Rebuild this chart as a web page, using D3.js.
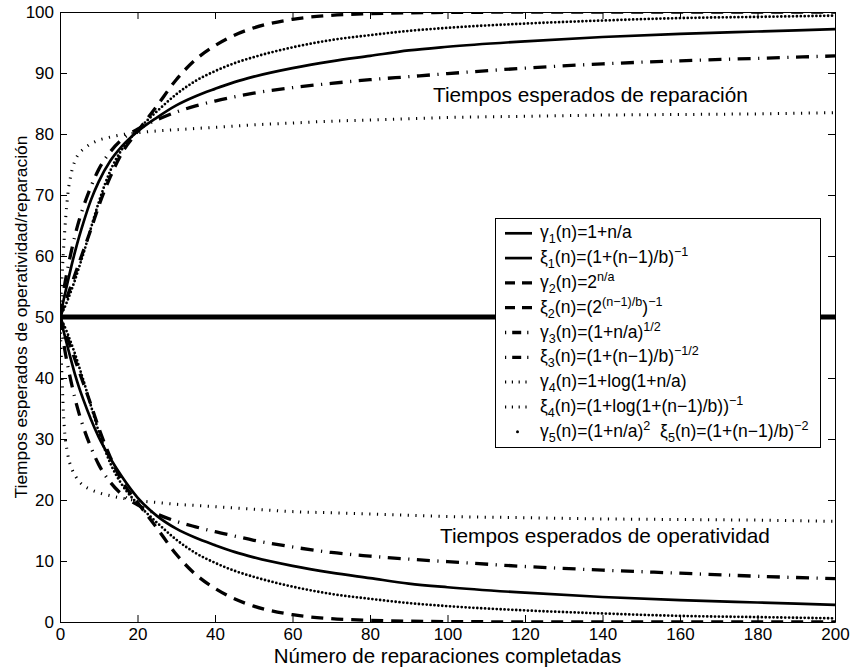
<!DOCTYPE html>
<html>
<head>
<meta charset="utf-8">
<script src="https://cdn.jsdelivr.net/npm/d3@7"></script>
<style>
  body { margin: 0; background: #fff; }
  svg { display: block; }
  text { font-family: "Liberation Sans", Arial, Helvetica, sans-serif; fill: #000; white-space: pre; }
</style>
</head>
<body>
<svg id="chart" width="851" height="667"></svg>
<script>
// Repair cycle index (number of completed repairs)
const nSteps = [0, 1, 2, 3, 4, 5, 6, 8, 10, 13, 16, 20, 25, 30, 35, 40, 45, 50, 60, 70, 80, 90, 100, 120, 140, 160, 180, 200];

const xTicks = [0, 20, 40, 60, 80, 100, 120, 140, 160, 180, 200];
const yTicks = [0, 10, 20, 30, 40, 50, 60, 70, 80, 90, 100];

// Expected repair times (upper family), one array per model
const repair1 = [50, 53, 55.8, 58.5, 61, 63.3, 65.4, 69.2, 72.2, 75.6, 78.0, 80.4, 82.7, 84.7, 86.2, 87.4, 88.5, 89.4, 90.8, 91.9, 92.8, 93.7, 94.3, 95.2, 95.9, 96.4, 96.8, 97.2];
const repair2 = [50, 51.8, 53.6, 55.4, 57.2, 59.0, 60.8, 64.4, 68.2, 73.0, 76.9, 80.4, 84.6, 88.9, 92.2, 94.5, 96.2, 97.4, 98.8, 99.45, 99.72, 99.86, 99.93, 99.98, 100, 100, 100, 100];
const repair3 = [50, 54.5, 58, 61, 63.7, 66, 68, 71.4, 74.2, 77.1, 79.1, 80.8, 82.3, 83.6, 84.6, 85.4, 86.1, 86.7, 87.6, 88.3, 88.9, 89.4, 89.9, 90.8, 91.5, 92.0, 92.4, 92.8];
const repair4 = [50, 62, 70, 73.8, 75.8, 76.9, 77.5, 78.4, 79.0, 79.5, 79.9, 80.2, 80.5, 80.7, 80.9, 81.1, 81.3, 81.5, 81.8, 82.1, 82.3, 82.5, 82.7, 82.9, 83.1, 83.2, 83.3, 83.5];
const repair5 = [50, 51.3, 52.8, 54.5, 56.3, 58.3, 60.3, 64.6, 68.8, 74.0, 77.5, 80.6, 83.7, 86.5, 88.7, 90.3, 91.6, 92.6, 94.2, 95.4, 96.2, 96.9, 97.4, 98.1, 98.6, 99.0, 99.2, 99.4];

// Expected operating times (lower family)
const operate1 = [50, 47.5, 45, 42.6, 40.3, 38.3, 36.5, 33.2, 30.3, 26.8, 23.8, 20.4, 17.4, 15.3, 13.8, 12.6, 11.5, 10.6, 9.2, 8.1, 7.2, 6.3, 5.7, 4.8, 4.1, 3.6, 3.2, 2.8];
const operate2 = [50, 48.2, 46.4, 44.6, 42.8, 41.0, 39.2, 35.6, 31.8, 27.0, 23.1, 19.6, 15.4, 11.1, 7.8, 5.5, 3.8, 2.6, 1.2, 0.55, 0.28, 0.14, 0.07, 0.02, 0, 0, 0, 0];
const operate3 = [50, 45.5, 42, 39, 36.3, 34, 32, 28.6, 25.8, 22.9, 20.9, 19.2, 17.7, 16.5, 15.6, 14.8, 14.1, 13.4, 12.3, 11.4, 10.8, 10.3, 9.9, 9.1, 8.5, 8.0, 7.5, 7.1];
const operate4 = [50, 33, 27.5, 25.2, 23.9, 23.0, 22.4, 21.7, 21.2, 20.7, 20.3, 19.9, 19.6, 19.3, 19.1, 18.9, 18.7, 18.5, 18.1, 17.9, 17.7, 17.5, 17.3, 17.1, 16.9, 16.8, 16.7, 16.5];
const operate5 = [50, 48.7, 47.2, 45.5, 43.7, 41.7, 39.7, 35.4, 31.2, 26.0, 22.5, 19.4, 16.3, 13.5, 11.3, 9.7, 8.4, 7.4, 5.8, 4.6, 3.8, 3.1, 2.6, 1.9, 1.4, 1.0, 0.8, 0.6];

// Reference case: equal repair and operating times
const equalSteps = [0, 200];
const equalLevel = [50, 50];

const xLabel = "Número de reparaciones completadas";
const yLabel = "Tiempos esperados de operatividad/reparación";
const repairNote = "Tiempos esperados de reparación";
const operateNote = "Tiempos esperados de operatividad";

// Legend entries: pieces of text with sub/superscript markers
const legendItems = [
  { style: "solid",   parts: [["γ", ""], ["1", "sub"], ["(n)=1+n/a", ""]] },
  { style: "solid",   parts: [["ξ", ""], ["1", "sub"], ["(n)=(1+(n−1)/b)", ""], ["−1", "sup"]] },
  { style: "dashed",  parts: [["γ", ""], ["2", "sub"], ["(n)=2", ""], ["n/a", "sup"]] },
  { style: "dashed",  parts: [["ξ", ""], ["2", "sub"], ["(n)=(2", ""], ["(n−1)/b", "sup"], [")", ""], ["−1", "sup"]] },
  { style: "dashdot", parts: [["γ", ""], ["3", "sub"], ["(n)=(1+n/a)", ""], ["1/2", "sup"]] },
  { style: "dashdot", parts: [["ξ", ""], ["3", "sub"], ["(n)=(1+(n−1)/b)", ""], ["−1/2", "sup"]] },
  { style: "dotted",  parts: [["γ", ""], ["4", "sub"], ["(n)=1+log(1+n/a)", ""]] },
  { style: "dotted",  parts: [["ξ", ""], ["4", "sub"], ["(n)=(1+log(1+(n−1)/b))", ""], ["−1", "sup"]] },
  { style: "point",   parts: [["γ", ""], ["5", "sub"], ["(n)=(1+n/a)", ""], ["2", "sup"], ["  ξ", ""], ["5", "sub"], ["(n)=(1+(n−1)/b)", ""], ["−2", "sup"]] }
];

// Line styles
const styles = {
  solid:   { width: 2.7, dash: null, cap: "butt" },
  dashed:  { width: 3.3, dash: "12 8", cap: "butt" },
  dashdot: { width: 3.3, dash: "13 7.5 1.2 7.5", cap: "butt" },
  dotted:  { width: 3.0, dash: "1.2 6.5", cap: "butt" },
  point:   { width: 2.8, dash: "0 3.9", cap: "round" }
};

const series = [
  { values: repair1, style: "solid" },  { values: operate1, style: "solid" },
  { values: repair2, style: "dashed" }, { values: operate2, style: "dashed" },
  { values: repair3, style: "dashdot" },{ values: operate3, style: "dashdot" },
  { values: repair4, style: "dotted" }, { values: operate4, style: "dotted" },
  { values: repair5, style: "point" },  { values: operate5, style: "point" }
];

const svg = d3.select("#chart");
const plot = { left: 60, right: 835, top: 12, bottom: 622 };

const x = d3.scaleLinear().domain([0, 200]).range([plot.left, plot.right]);
const y = d3.scaleLinear().domain([0, 100]).range([plot.bottom, plot.top]);

svg.append("defs").append("clipPath").attr("id", "plotClip")
  .append("rect")
  .attr("x", plot.left).attr("y", plot.top)
  .attr("width", plot.right - plot.left).attr("height", plot.bottom - plot.top);

const curves = svg.append("g").attr("clip-path", "url(#plotClip)");

const line = d3.line()
  .x(d => x(d[0]))
  .y(d => y(d[1]))
  .curve(d3.curveMonotoneX);

// Horizontal reference level
curves.append("path")
  .datum(equalSteps.map((n, i) => [n, equalLevel[i]]))
  .attr("d", line)
  .attr("fill", "none")
  .attr("stroke", "#000")
  .attr("stroke-width", 5);

series.forEach(s => {
  const st = styles[s.style];
  curves.append("path")
    .datum(nSteps.map((n, i) => [n, s.values[i]]))
    .attr("d", line)
    .attr("fill", "none")
    .attr("stroke", "#000")
    .attr("stroke-width", st.width)
    .attr("stroke-linecap", st.cap)
    .attr("stroke-linejoin", "round")
    .attr("stroke-dasharray", st.dash);
});

// Axes with inward ticks on all four sides
const tickLen = -7;
const gx = svg.append("g").attr("transform", `translate(0,${plot.bottom})`)
  .call(d3.axisBottom(x).tickValues(xTicks).tickSizeInner(tickLen).tickSizeOuter(0).tickPadding(6));
const gy = svg.append("g").attr("transform", `translate(${plot.left},0)`)
  .call(d3.axisLeft(y).tickValues(yTicks).tickSizeInner(tickLen).tickSizeOuter(0).tickPadding(6));
const gt = svg.append("g").attr("transform", `translate(0,${plot.top})`)
  .call(d3.axisTop(x).tickValues(xTicks).tickSizeInner(tickLen).tickSizeOuter(0).tickFormat(""));
const gr = svg.append("g").attr("transform", `translate(${plot.right},0)`)
  .call(d3.axisRight(y).tickValues(yTicks).tickSizeInner(tickLen).tickSizeOuter(0).tickFormat(""));

[gx, gy, gt, gr].forEach(g => {
  g.select(".domain").attr("stroke", "#000").attr("stroke-width", 1);
  g.selectAll(".tick line").attr("stroke", "#000").attr("stroke-width", 1);
  g.selectAll(".tick text").attr("font-size", 17).attr("fill", "#000")
    .attr("font-family", "'Liberation Sans', Arial, Helvetica, sans-serif");
});

// Axis titles
svg.append("text")
  .attr("x", (plot.left + plot.right) / 2).attr("y", 663)
  .attr("text-anchor", "middle").attr("font-size", 20.5)
  .text(xLabel);

svg.append("text")
  .attr("transform", `translate(26.5,${(plot.top + plot.bottom) / 2}) rotate(-90)`)
  .attr("text-anchor", "middle").attr("font-size", 17.4)
  .text(yLabel);

// In-plot annotations
svg.append("text").attr("x", 433).attr("y", 102).attr("font-size", 20.8).text(repairNote);
svg.append("text").attr("x", 440).attr("y", 543).attr("font-size", 20.8).text(operateNote);

// Legend
const legend = svg.append("g");
const lg = { left: 495, top: 218, width: 325, rowTop: 233.3, rowStep: 24.8, sampleX0: 505, sampleX1: 532, textX: 540, fontSize: 17.5 };
const lgHeight = (lg.rowTop - lg.top) * 2 + lg.rowStep * (legendItems.length - 1);

legend.append("rect")
  .attr("x", lg.left + 0.5).attr("y", lg.top + 0.5)
  .attr("width", lg.width).attr("height", lgHeight)
  .attr("fill", "#fff").attr("stroke", "#000").attr("stroke-width", 1);

const sampleDash = {
  solid: null,
  dashed: "10 7 10 20",
  dashdot: "1.2 6 9 6 1.2 30",
  dotted: "1.2 5.6"
};

legendItems.forEach((item, i) => {
  const cy = lg.rowTop + i * lg.rowStep;
  const st = styles[item.style];
  if (item.style === "point") {
    legend.append("circle")
      .attr("cx", (lg.sampleX0 + lg.sampleX1) / 2 - 1).attr("cy", cy)
      .attr("r", 1.5).attr("fill", "#000");
  } else {
    legend.append("line")
      .attr("x1", lg.sampleX0).attr("x2", lg.sampleX1)
      .attr("y1", cy).attr("y2", cy)
      .attr("stroke", "#000")
      .attr("stroke-width", st.width)
      .attr("stroke-dasharray", sampleDash[item.style]);
  }
  const t = legend.append("text")
    .attr("x", lg.textX).attr("y", cy + 5)
    .attr("font-size", lg.fontSize);
  let shift = 0;
  item.parts.forEach(([txt, kind]) => {
    const target = kind === "sub" ? 5 : kind === "sup" ? -7 : 0;
    t.append("tspan")
      .attr("dy", target - shift)
      .attr("font-size", kind ? lg.fontSize * 0.72 : lg.fontSize)
      .text(txt);
    shift = target;
  });
});
</script>
</body>
</html>
